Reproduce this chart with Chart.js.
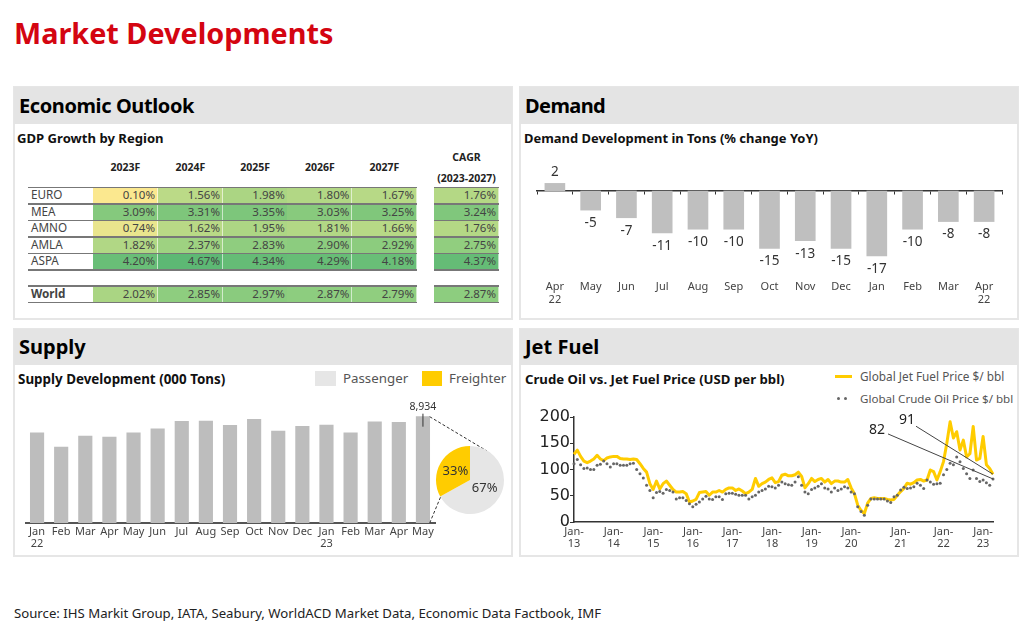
<!DOCTYPE html>
<html>
<head>
<meta charset="utf-8">
<title>Market Developments</title>
<script src="https://cdn.jsdelivr.net/npm/chart.js@4"></script>
<style>
  body { margin: 0; width: 1024px; height: 623px; background: #fff; position: relative; overflow: hidden; font-family: "Noto Sans", sans-serif; color: #333; }
  .abs, canvas { position: absolute; }
  .title { left: 14px; top: 13px; font-size: 28.8px; font-weight: 700; color: #d40511; white-space: nowrap; }
  .panel { width: 496px; border: 2px solid #e6e6e6; box-sizing: content-box; }
  .head { position: absolute; left: 14px; width: 498px; background: #e4e4e4; font-size: 20px; font-weight: 700; color: #000; padding-left: 5px; box-sizing: border-box; white-space: nowrap; }
  .sub { font-weight: 700; color: #111; white-space: nowrap; }
  .legend { font-size: 13.3px; color: #555; white-space: nowrap; }
  .cell { position: absolute; font-size: 11.5px; line-height: 15px; text-align: right; padding-right: 2px; box-sizing: border-box; color: #444; border-right: 1px solid rgba(255,255,255,.6); }
  .rowlabel { position: absolute; font-size: 11.7px; line-height: 15px; color: #444; }
  .yr { position: absolute; font-size: 10.5px; font-weight: 700; color: #222; text-align: center; white-space: nowrap; }
  .rule { position: absolute; height: 1.5px; background: #777; }
  .source { left: 14px; top: 604px; font-size: 13.2px; color: #222; white-space: nowrap; }
</style>
</head>
<body>
<div class="abs title">Market Developments</div>

<div class="abs panel" style="left:13px;top:86px;height:230px"></div>
<div class="abs panel" style="left:519px;top:86px;height:230px"></div>
<div class="abs panel" style="left:13px;top:328px;height:225px"></div>
<div class="abs panel" style="left:519px;top:328px;height:225px"></div>

<div class="head" style="top:87px;height:37px;line-height:37px;letter-spacing:-.4px">Economic Outlook</div>
<div class="head" style="top:87px;left:520px;height:37px;line-height:37px;letter-spacing:-.6px">Demand</div>
<div class="head" style="top:329px;height:36px;line-height:36px">Supply</div>
<div class="head" style="top:329px;left:520px;height:36px;line-height:36px">Jet Fuel</div>

<div class="abs sub" style="left:17px;top:129px;font-size:13.1px">GDP Growth by Region</div>
<div class="abs sub" style="left:524px;top:129px;font-size:12.95px">Demand Development in Tons (% change YoY)</div>
<div class="abs sub" style="left:18px;top:370px;font-size:13.4px">Supply Development (000 Tons)</div>
<div class="abs sub" style="left:525px;top:370px;font-size:13.2px">Crude Oil vs. Jet Fuel Price (USD per bbl)</div>

<div id="gdpTable"></div>

<div class="abs" style="left:315px;top:371px;width:21px;height:15px;background:#e6e6e6"></div>
<div class="abs legend" style="left:343px;top:369px">Passenger</div>
<div class="abs" style="left:422px;top:371px;width:20px;height:15px;background:#ffcc00"></div>
<div class="abs legend" style="left:449px;top:369px">Freighter</div>

<div class="abs" style="left:835px;top:375px;width:17px;height:3px;background:#ffcc00"></div>
<div class="abs legend" style="left:860px;top:368px;font-size:11.8px">Global Jet Fuel Price $/ bbl</div>
<div class="abs" style="left:837px;top:397px;width:3px;height:3px;border-radius:50%;background:#666"></div>
<div class="abs" style="left:844px;top:397px;width:3px;height:3px;border-radius:50%;background:#666"></div>
<div class="abs legend" style="left:860px;top:391px;font-size:11.6px">Global Crude Oil Price $/ bbl</div>

<canvas id="demandChart" width="495" height="151" style="left:521px;top:160px"></canvas>
<canvas id="supplyChart" width="485" height="159" style="left:25px;top:394px"></canvas>
<canvas id="pieChart" width="68" height="68" style="left:436px;top:446px"></canvas>
<canvas id="fuelChart" width="495" height="145" style="left:521px;top:407px"></canvas>

<div class="abs source">Source: IHS Markit Group, IATA, Seabury, WorldACD Market Data, Economic Data Factbook, IMF</div>

<script>
// GDP table
const gdpYears = ['2023F', '2024F', '2025F', '2026F', '2027F'];
const gdpRegions = ['EURO', 'MEA', 'AMNO', 'AMLA', 'ASPA'];
const gdpEuro = [0.10, 1.56, 1.98, 1.80, 1.67];
const gdpMea = [3.09, 3.31, 3.35, 3.03, 3.25];
const gdpAmno = [0.74, 1.62, 1.95, 1.81, 1.66];
const gdpAmla = [1.82, 2.37, 2.83, 2.90, 2.92];
const gdpAspa = [4.20, 4.67, 4.34, 4.29, 4.18];
const gdpWorld = [2.02, 2.85, 2.97, 2.87, 2.79];
const gdpCagr = [1.76, 3.24, 1.76, 2.75, 4.37];
const gdpWorldCagr = 2.87;

// Demand chart
const demandLabels = [['Apr', '22'], 'May', 'Jun', 'Jul', 'Aug', 'Sep', 'Oct', 'Nov', 'Dec', 'Jan', 'Feb', 'Mar', ['Apr', '22']];
const demandValues = [2, -5, -7, -11, -10, -10, -15, -13, -15, -17, -10, -8, -8];

// Supply chart
const supplyLabels = [['Jan', '22'], 'Feb', 'Mar', 'Apr', 'May', 'Jun', 'Jul', 'Aug', 'Sep', 'Oct', 'Nov', 'Dec', ['Jan', '23'], 'Feb', 'Mar', 'Apr', 'May'];
const supplyValues = [7585, 6377, 7304, 7220, 7585, 7922, 8540, 8568, 8203, 8709, 7725, 8119, 8231, 7585, 8512, 8456, 8934];
const pieLabels = ['Passenger', 'Freighter'];
const pieValues = [67, 33];

// Jet fuel chart
const jetFuel = [
  129, 137, 125, 116, 113, 116, 120, 127, 120, 117,
  122, 124, 125, 125, 121, 120, 120, 119, 120, 119,
  111, 102, 95, 73, 62, 78, 63, 73, 78, 70,
  62, 57, 57, 58, 54, 38, 40, 43, 56, 57,
  58, 51, 57, 57, 60, 57, 62, 65, 65, 60,
  63, 59, 54, 57, 62, 83, 68, 73, 76, 81,
  84, 75, 77, 89, 91, 88, 88, 90, 95, 87,
  65, 73, 83, 77, 81, 83, 76, 81, 73, 78,
  78, 76, 76, 81, 65, 54, 32, 22, 16, 36,
  45, 46, 45, 45, 45, 43, 42, 43, 51, 58,
  64, 74, 72, 75, 80, 81, 78, 80, 99, 96,
  80, 96, 115, 150, 191, 160, 172, 137, 156, 124,
  130, 182, 118, 121, 163, 109, 102, 91
];
const crudeOil = [
  111, 119, 109, 102, 103, 100, 100, 108, 110, 116,
  111, 105, 111, 111, 108, 108, 108, 111, 112, 100,
  92, 84, 70, 60, 46, 56, 58, 55, 62, 60,
  57, 44, 46, 46, 41, 35, 29, 34, 38, 44,
  49, 44, 43, 48, 48, 43, 54, 55, 55, 53,
  51, 51, 51, 44, 48, 51, 57, 60, 63, 68,
  67, 65, 70, 76, 73, 71, 70, 76, 86, 70,
  57, 54, 62, 65, 68, 73, 65, 63, 57, 65,
  60, 63, 67, 65, 57, 54, 29, 20, 13, 32,
  44, 44, 44, 44, 44, 40, 37, 48, 51, 61,
  66, 64, 65, 67, 74, 70, 64, 80, 76, 72,
  73, 74, 90, 100, 112, 109, 124, 115, 102, 92,
  83, 99, 83, 77, 80, 75, 70, 82
];
// sample index where each year label sits (the axis is not even after 2020)
const fuelTickIndex = [0, 12, 24, 36, 48, 60, 72, 84, 99, 112, 124];
const fuelTickYears = ['13', '14', '15', '16', '17', '18', '19', '20', '21', '22', '23'];

const FONT = '"Noto Sans", sans-serif';
Chart.defaults.font.family = FONT;
Chart.defaults.animation = false;
Chart.defaults.responsive = false;
Chart.defaults.plugins.legend.display = false;
Chart.defaults.plugins.tooltip.enabled = false;

// colour scale of the table, value -> r, g, b
const heatStops = [
  [0.10, 251, 232, 143], [0.74, 233, 229, 141], [1.56, 187, 218, 135], [2.02, 170, 213, 131],
  [2.85, 142, 205, 127], [3.30, 126, 198, 123], [4.20, 105, 190, 119], [4.67, 93, 184, 116]
];
function heatColor(v) {
  for (let i = 1; i < heatStops.length; i++) {
    const a = heatStops[i - 1], b = heatStops[i];
    if (v <= b[0]) {
      const t = (v - a[0]) / (b[0] - a[0]);
      return `rgb(${a[1] + (b[1] - a[1]) * t},${a[2] + (b[2] - a[2]) * t},${a[3] + (b[3] - a[3]) * t})`;
    }
  }
  return 'rgb(93,184,116)';
}

function buildTable() {
  const box = document.getElementById('gdpTable');
  const colX = [93, 158, 222.7, 287.3, 352, 434];
  const colW = 65;
  const rowH = 16.5;
  const rows = [gdpEuro, gdpMea, gdpAmno, gdpAmla, gdpAspa];
  let html = '';

  gdpYears.forEach((y, i) => {
    html += `<div class="yr" style="left:${colX[i]}px;width:${colW}px;top:160px">${y}</div>`;
  });
  html += `<div class="yr" style="left:${colX[5]}px;width:${colW}px;top:150px">CAGR</div>`;
  html += `<div class="yr" style="left:${colX[5]}px;width:${colW}px;top:171px">(2023-2027)</div>`;

  function addRow(label, vals, top, bold) {
    html += `<div class="rowlabel" style="left:31px;top:${top}px;${bold ? 'font-weight:700' : ''}">${label}</div>`;
    vals.forEach((v, i) => {
      html += `<div class="cell" style="left:${colX[i]}px;top:${top}px;width:${colW}px;height:${rowH}px;background:${heatColor(v)}">${v.toFixed(2)}%</div>`;
    });
  }
  function addRule(top) {
    html += `<div class="rule" style="left:28px;width:389px;top:${top}px"></div>`;
    html += `<div class="rule" style="left:434px;width:65px;top:${top}px"></div>`;
  }

  gdpRegions.forEach((r, i) => addRow(r, rows[i].concat(gdpCagr[i]), 187 + i * rowH, false));
  addRow('World', gdpWorld.concat(gdpWorldCagr), 285.7, true);
  for (let i = 0; i <= 5; i++) addRule(186.5 + i * rowH);
  addRule(285.2);
  addRule(301.8);
  box.innerHTML = html;
}
buildTable();

// value text under or over each bar
const demandLabelPlugin = {
  id: 'demandLabels',
  afterDatasetsDraw(chart) {
    const ctx = chart.ctx;
    ctx.save();
    ctx.font = '13.5px ' + FONT;
    ctx.fillStyle = '#333';
    ctx.textAlign = 'center';
    ctx.textBaseline = 'middle';
    chart.getDatasetMeta(0).data.forEach((bar, i) => {
      const v = demandValues[i];
      ctx.fillText(v, bar.x, v < 0 ? bar.y + 13 : bar.y - 11);
    });
    ctx.restore();
  }
};

new Chart(document.getElementById('demandChart'), {
  type: 'bar',
  data: { labels: demandLabels, datasets: [{ data: demandValues, backgroundColor: '#bfbfbf', barThickness: 20 }] },
  options: {
    layout: { padding: { left: 16, right: 14 } },
    scales: {
      x: {
        grid: { display: false, drawTicks: false },
        border: { display: false },
        ticks: { color: '#444', font: { size: 11, lineHeight: 1.15 }, padding: 0, maxRotation: 0, autoSkip: false },
        afterFit(s) { s.height = 30; }
      },
      x2: {
        position: { y: 0 },
        grid: { offset: true, drawOnChartArea: false, tickLength: 3, color: '#333' },
        border: { color: '#333', width: 1.5 },
        ticks: { display: false, autoSkip: false }
      },
      y: { display: false, min: -23.56, max: 8.12 }
    }
  },
  plugins: [demandLabelPlugin]
});

// where the pie sits inside the supply canvas
const PIE_X = 445, PIE_Y = 86;

const supplyLeaderPlugin = {
  id: 'supplyLeader',
  afterDatasetsDraw(chart) {
    const ctx = chart.ctx;
    const last = chart.getDatasetMeta(0).data[supplyValues.length - 1];
    const right = last.x + last.width / 2;
    ctx.save();
    ctx.font = '10.5px ' + FONT;
    ctx.fillStyle = '#333';
    ctx.textAlign = 'center';
    ctx.textBaseline = 'middle';
    ctx.fillText('8,934', last.x, last.y - 10);
    ctx.strokeStyle = '#333';
    ctx.lineWidth = 1;
    ctx.beginPath();
    ctx.moveTo(last.x, last.y - 3);
    ctx.lineTo(last.x, last.y + 10);
    ctx.stroke();
    ctx.setLineDash([3, 2]);
    ctx.beginPath();
    ctx.moveTo(right, last.y);
    ctx.lineTo(PIE_X + 17, PIE_Y - 29);
    ctx.moveTo(right, chart.chartArea.bottom);
    ctx.lineTo(PIE_X - 29, PIE_Y + 16);
    ctx.stroke();
    ctx.restore();
  }
};

new Chart(document.getElementById('supplyChart'), {
  type: 'bar',
  data: { labels: supplyLabels, datasets: [{ data: supplyValues, backgroundColor: '#bdbdbd', barThickness: 13.5 }] },
  options: {
    layout: { padding: { top: 10, right: 75 } },
    scales: {
      x: {
        grid: { display: false, drawTicks: false },
        border: { color: '#555', width: 2 },
        ticks: { color: '#444', font: { size: 11, lineHeight: 1.1 }, padding: 3, maxRotation: 0, autoSkip: false },
        afterFit(s) { s.height = 30; }
      },
      y: { display: false, min: 0, max: 10000 }
    }
  },
  plugins: [supplyLeaderPlugin]
});

const pieLabelPlugin = {
  id: 'pieLabels',
  afterDatasetsDraw(chart) {
    const ctx = chart.ctx;
    ctx.save();
    ctx.font = '13px ' + FONT;
    ctx.fillStyle = '#333';
    ctx.textAlign = 'center';
    ctx.textBaseline = 'middle';
    chart.getDatasetMeta(0).data.forEach((arc, i) => {
      const p = arc.tooltipPosition();
      ctx.fillText(pieValues[i] + '%', p.x, p.y);
    });
    ctx.restore();
  }
};

new Chart(document.getElementById('pieChart'), {
  type: 'pie',
  data: { labels: pieLabels, datasets: [{ data: pieValues, backgroundColor: ['#e6e6e6', '#ffcc00'], borderWidth: 0 }] },
  plugins: [pieLabelPlugin]
});

// 91 and 82 call-outs, drawn from the last point of each line
const fuelCalloutPlugin = {
  id: 'fuelCallouts',
  afterDatasetsDraw(chart) {
    const ctx = chart.ctx;
    const jetEnd = chart.getDatasetMeta(1).data[jetFuel.length - 1];
    const crudeEnd = chart.getDatasetMeta(0).data[crudeOil.length - 1];
    const callouts = [
      { end: jetEnd, text: jetFuel[jetFuel.length - 1], dx: -77, dy: -48, tx: -86, ty: -54 },
      { end: crudeEnd, text: crudeOil[crudeOil.length - 1], dx: -105, dy: -45, tx: -116, ty: -49 }
    ];
    ctx.save();
    ctx.font = '14px ' + FONT;
    ctx.fillStyle = '#222';
    ctx.strokeStyle = '#444';
    ctx.lineWidth = 1;
    ctx.textAlign = 'center';
    ctx.textBaseline = 'middle';
    callouts.forEach(c => {
      ctx.beginPath();
      ctx.moveTo(c.end.x, c.end.y);
      ctx.lineTo(c.end.x + c.dx, c.end.y + c.dy);
      ctx.stroke();
      ctx.fillText(c.text, c.end.x + c.tx, c.end.y + c.ty);
    });
    ctx.restore();
  }
};

new Chart(document.getElementById('fuelChart'), {
  type: 'line',
  data: {
    labels: jetFuel.map((v, i) => i),
    datasets: [
      { label: 'Global Crude Oil Price $/ bbl', data: crudeOil, showLine: false, pointRadius: 1.5, pointBackgroundColor: '#666', pointBorderWidth: 0 },
      { label: 'Global Jet Fuel Price $/ bbl', data: jetFuel, borderColor: '#ffcc00', borderWidth: 3, borderJoinStyle: 'round', pointRadius: 0, tension: 0 }
    ]
  },
  options: {
    layout: { padding: { top: 10, right: 23 } },
    scales: {
      x: {
        grid: { display: false, drawTicks: false },
        border: { color: '#333', width: 1.5 },
        ticks: {
          color: '#444', font: { size: 11, lineHeight: 1.1 }, padding: 4, maxRotation: 0, autoSkip: false,
          callback(value, index) {
            const k = fuelTickIndex.indexOf(index);
            return k < 0 ? '' : ['Jan-', fuelTickYears[k]];
          }
        },
        afterFit(s) { s.height = 30; }
      },
      y: {
        min: 0,
        max: 200,
        grid: { drawOnChartArea: false, tickLength: 4, color: '#333' },
        border: { color: '#333', width: 1.5 },
        ticks: { stepSize: 50, color: '#222', font: { family: '"DejaVu Sans"', size: 16 }, padding: 0 },
        afterFit(s) { s.width = 53; }
      }
    }
  },
  plugins: [fuelCalloutPlugin]
});
</script>
</body>
</html>
